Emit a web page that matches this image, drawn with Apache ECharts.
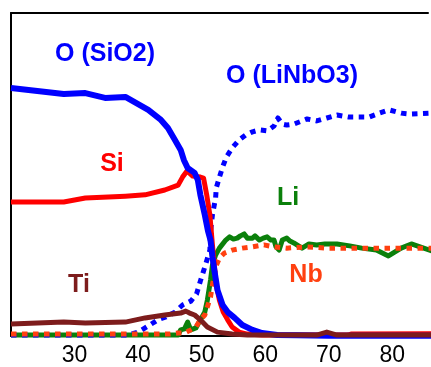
<!DOCTYPE html>
<html>
<head>
<meta charset="utf-8">
<script src="https://cdn.jsdelivr.net/npm/echarts@6/dist/echarts.min.js"></script>
<style>
html,body{margin:0;padding:0;background:#fff;}
#chart{width:431px;height:367px;}
</style>
</head>
<body>
<div id="chart"></div>
<script>
// x: depth-like coordinate, y: relative signal (0-100 of plot height)
var xTicks = [30, 40, 50, 60, 70, 80];

var oSiO2 = [[20,76.8],[28.3,74.9],[31.7,75.2],[34.8,73.7],[38,74.0],[41.6,70.0],[43.6,66.9],[44.7,64.4],[45.8,60.7],[46.7,57.6],[47.2,54.5],[47.8,52.0],[48.9,50.5],[49.4,48.3],[49.8,43.7],[50.5,37.5],[51.0,32.5],[51.4,29.7],[51.7,24.5],[52.0,20.4],[52.5,14.2],[53.3,9.6],[54.1,7.4],[55.2,5.6],[56.4,3.4],[58.0,1.9],[59.5,0.9],[61.9,0.3],[65,0.2],[70,0.1],[86.3,0.1]];

var si = [[20,41.5],[28.3,41.5],[31.7,42.7],[38,43.3],[41.1,43.7],[44.2,45.2],[46.3,46.7],[47.0,49.2],[47.7,51.1],[48.6,49.5],[49.8,49.2],[50.3,48.9],[50.8,43.7],[51.3,37.5],[51.7,28.2],[52.0,22.0],[52.3,15.8],[52.8,11.1],[53.4,7.4],[54.1,5.0],[54.8,2.8],[55.9,1.2],[57.2,0.6],[59.5,0.3],[73.0,0.3],[73.5,0.6],[86.3,0.7]];

var oLiNbO3 = [[20,0.3],[38.4,0.3],[40,1.2],[41.6,3.1],[43.1,5.0],[44.4,5.9],[45.8,7.4],[47.0,9.6],[48.3,10.8],[49.2,13.0],[49.8,17.0],[50.6,22.0],[51.3,26.6],[51.4,32.2],[51.7,37.5],[51.9,39.6],[52.2,42.7],[52.3,45.8],[52.8,49.2],[53.3,52.3],[53.9,55.4],[54.8,58.2],[55.9,60.7],[56.9,62.2],[58.0,63.2],[59.1,63.8],[60.3,63.5],[61.4,65.0],[62.0,67.5],[62.7,65.6],[63.4,65.3],[64.5,65.6],[66.6,67.2],[68.1,66.6],[69.7,67.5],[71.3,68.4],[73.1,67.8],[74.8,67.8],[76.4,67.8],[78.0,69.0],[79.5,70.0],[81.4,69.0],[83.0,68.7],[86.3,69.0]];

var li = [[20,0.3],[46.3,0.3],[46.7,1.9],[47.3,2.2],[47.8,4.3],[48.3,1.9],[49.1,2.5],[49.8,5.0],[50.5,7.4],[50.9,11.1],[51.4,17.3],[51.7,22.0],[52.2,25.1],[52.8,27.2],[53.8,29.7],[54.4,30.7],[55.0,30.0],[55.6,30.3],[56.1,31.0],[56.7,31.6],[57.2,30.3],[58.0,30.3],[58.4,31.0],[59.1,29.7],[59.7,30.3],[60.3,30.7],[60.9,29.7],[61.4,29.7],[61.7,27.6],[62.2,26.6],[62.7,29.7],[63.4,30.3],[63.9,29.4],[64.5,28.8],[65.8,27.2],[66.9,28.5],[68.1,28.2],[69.4,28.5],[71.3,28.5],[73.3,27.9],[75.2,27.2],[77.5,26.6],[79.4,24.8],[81.4,27.2],[83.0,28.5],[86.3,26.3]];

var nb = [[20,0.6],[45,0.6],[46.3,0.9],[47.3,0.9],[48.3,1.9],[49.1,2.8],[49.8,5.0],[50.5,6.5],[50.9,9.0],[51.4,12.1],[51.7,15.8],[52.0,18.9],[52.2,21.4],[52.8,24.1],[53.6,25.7],[54.8,26.6],[56.4,27.2],[58.0,27.6],[59.8,28.2],[61.4,27.6],[63.4,27.2],[66.6,27.6],[69.7,27.2],[72.8,27.2],[77.5,27.2],[80.6,27.2],[86.3,27.2]];

var ti = [[20,3.7],[28.3,4.3],[31.7,4.0],[38,4.3],[41.1,5.6],[44.2,6.5],[46.7,7.1],[47.5,7.7],[48.1,7.1],[48.9,6.5],[49.8,5.0],[50.9,2.8],[52.5,1.2],[54.8,0.6],[57.2,0.3],[68.1,0.3],[69.7,1.2],[71.3,0.3],[86.3,0.3]];

var labels = [
  {text:'O (SiO2)', color:'#0000ff', x:105, y:54},
  {text:'O (LiNbO3)', color:'#0000ff', x:292, y:76},
  {text:'Si', color:'#ff0000', x:112, y:164},
  {text:'Li', color:'#0b800b', x:288, y:198},
  {text:'Ti', color:'#7d1c1c', x:79, y:285},
  {text:'Nb', color:'#ff4010', x:306, y:275}
];

var chart = echarts.init(document.getElementById('chart'), null, {renderer:'canvas'});
var font = '"Liberation Sans", Arial, sans-serif';
function line(name, data, color, width, dotted) {
  return {
    name: name, type: 'line', data: data, showSymbol: false, symbol: 'none',
    animation: false, clip: true,
    lineStyle: {color: color, width: width, type: dotted ? [5.5, 5.5] : 'solid', cap: 'butt', join: 'round'}
  };
}
chart.setOption({
  backgroundColor: '#fff',
  animation: false,
  grid: {left: 11, right: 0, top: 13, bottom: 31, show: false},
  xAxis: [{
    type: 'value', min: 20, max: 85.625, interval: 10,
    axisLine: {show: true, lineStyle: {color: '#000', width: 2}},
    axisTick: {show: false}, splitLine: {show: false},
    axisLabel: {
      color: '#000', fontSize: 23, fontFamily: font, margin: 8,
      formatter: function (v) { return xTicks.indexOf(v) >= 0 ? String(v) : ''; }
    }
  }, {
    type: 'value', position: 'top', min: 20, max: 85.625,
    axisLine: {show: true, lineStyle: {color: '#000', width: 2}},
    axisTick: {show: false}, splitLine: {show: false}, axisLabel: {show: false}
  }],
  yAxis: {
    type: 'value', min: 0, max: 100,
    axisLine: {show: true, lineStyle: {color: '#000', width: 2}},
    axisTick: {show: false}, splitLine: {show: false}, axisLabel: {show: false}
  },
  series: [
    line('Li', li, '#0b800b', 5, false),
    line('O (LiNbO3)', oLiNbO3, '#0000ff', 5, true),
    line('Nb', nb, '#ff4010', 5, true),
    line('Si', si, '#ff0000', 5, false),
    line('O (SiO2)', oSiO2, '#0000ff', 6, false),
    line('Ti', ti, '#7d1c1c', 5, false)
  ],
  graphic: labels.map(function (l) {
    return {type: 'text', x: l.x, y: l.y, z: 100,
      style: {text: l.text, fill: l.color, font: 'bold 25px ' + font, textAlign: 'center', textVerticalAlign: 'middle'}};
  })
});
</script>
</body>
</html>
